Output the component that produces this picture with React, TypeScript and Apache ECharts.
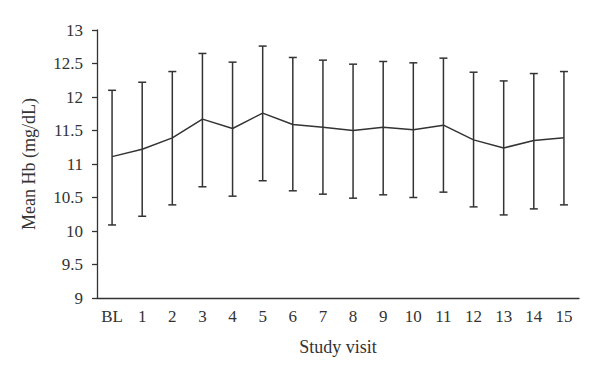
import React, { useEffect, useRef } from "react";
import * as echarts from "echarts";

const categories = ["BL", "1", "2", "3", "4", "5", "6", "7", "8", "9", "10", "11", "12", "13", "14", "15"];
const meanHb = [11.11, 11.22, 11.39, 11.67, 11.53, 11.76, 11.59, 11.55, 11.5, 11.55, 11.51, 11.58, 11.36, 11.24, 11.35, 11.39];
const upperHb = [12.1, 12.22, 12.38, 12.65, 12.52, 12.76, 12.59, 12.55, 12.49, 12.53, 12.51, 12.58, 12.37, 12.24, 12.35, 12.38];
const lowerHb = [10.09, 10.22, 10.39, 10.66, 10.52, 10.75, 10.6, 10.55, 10.49, 10.54, 10.5, 10.58, 10.36, 10.24, 10.33, 10.39];

const INK = "#333333";
const FONT = "Liberation Serif";

export default function App() {
  const ref = useRef<HTMLDivElement>(null);
  useEffect(() => {
    if (!ref.current) return;
    const chart = echarts.init(ref.current, null, { renderer: "svg" });
    const errData = categories.map((c, i) => [i, lowerHb[i], upperHb[i]]);
    chart.setOption({
      animation: false,
      backgroundColor: "#ffffff",
      grid: { left: 97, right: 21, top: 30, bottom: 83 },
      xAxis: {
        type: "category",
        data: categories,
        boundaryGap: true,
        name: "Study visit",
        nameLocation: "middle",
        nameGap: 40,
        nameTextStyle: { fontFamily: FONT, fontSize: 18, color: INK },
        axisLine: { lineStyle: { color: INK, width: 1.3 } },
        axisTick: { alignWithLabel: true, length: 5, lineStyle: { color: INK, width: 1.3 } },
        axisLabel: { fontFamily: FONT, fontSize: 17, color: INK, margin: 10, interval: 0 },
        splitLine: { show: false },
      },
      yAxis: {
        type: "value",
        min: 9,
        max: 13,
        interval: 0.5,
        name: "Mean Hb (mg/dL)",
        nameLocation: "middle",
        nameGap: 59,
        nameRotate: 90,
        nameTextStyle: { fontFamily: FONT, fontSize: 18, color: INK },
        axisLine: { show: true, lineStyle: { color: INK, width: 1.3 } },
        axisTick: { show: true, length: 5, lineStyle: { color: INK, width: 1.3 } },
        axisLabel: { fontFamily: FONT, fontSize: 17, color: INK, margin: 14 },
        splitLine: { show: false },
      },
      series: [
        {
          type: "line",
          data: meanHb,
          symbol: "none",
          lineStyle: { color: INK, width: 1.5 },
          z: 3,
        },
        {
          type: "custom",
          data: errData,
          encode: { x: 0, y: [1, 2] },
          renderItem: (params: any, api: any) => {
            const x = api.value(0);
            const lo = api.coord([x, api.value(1)]);
            const hi = api.coord([x, api.value(2)]);
            const hw = 4;
            const style = { stroke: INK, lineWidth: 1.5 };
            return {
              type: "group",
              children: [
                { type: "line", shape: { x1: lo[0], y1: lo[1], x2: hi[0], y2: hi[1] }, style },
                { type: "line", shape: { x1: hi[0] - hw, y1: hi[1], x2: hi[0] + hw, y2: hi[1] }, style },
                { type: "line", shape: { x1: lo[0] - hw, y1: lo[1], x2: lo[0] + hw, y2: lo[1] }, style },
              ],
            };
          },
          z: 2,
        },
      ],
    });
    return () => chart.dispose();
  }, []);
  return <div ref={ref} style={{ width: 600, height: 381, position: "absolute", left: 0, top: 0 }} />;
}
